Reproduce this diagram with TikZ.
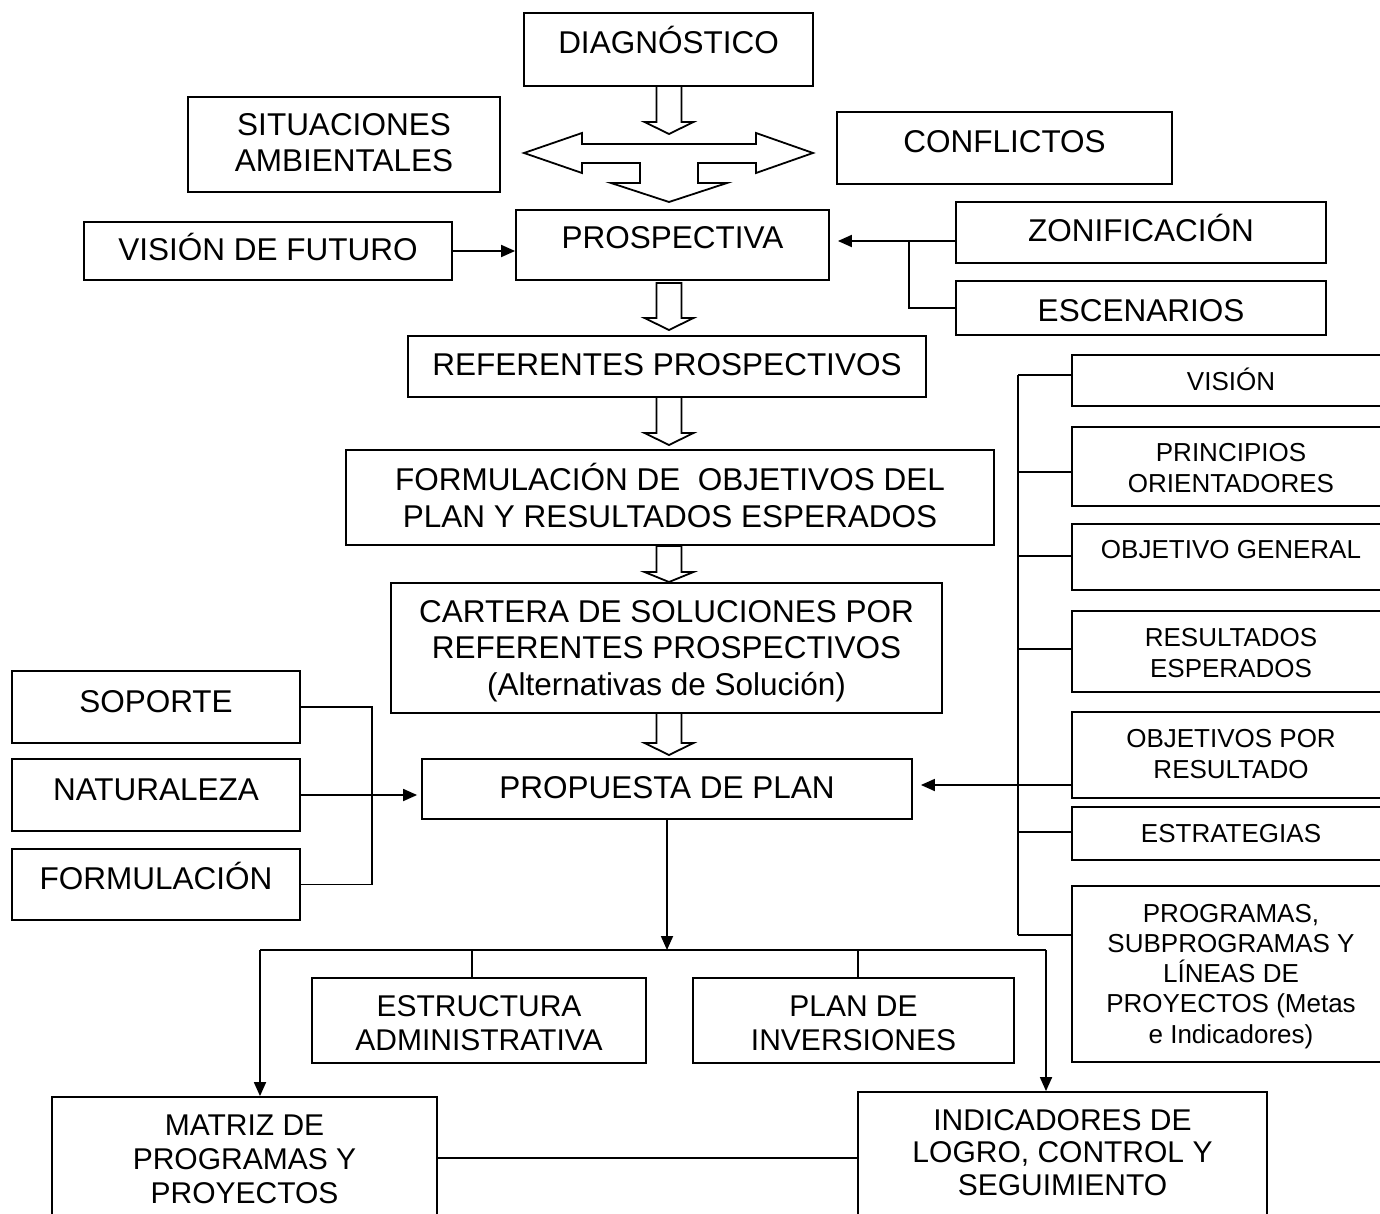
\documentclass[tikz,border=0pt]{standalone}
\usepackage{fontspec}
\setmainfont{Liberation Sans}
\usetikzlibrary{arrows.meta}

\tikzset{
  box/.style={draw, line width=1.8pt, inner sep=0pt, fill=white},
  % labels are placed by the baseline of their last line
  lbl/.style={inner sep=0pt, anchor=base, align=center, font=\fontsize{31.5}{36.5}\selectfont},
  lblsmall/.style={lbl, font=\fontsize{26}{30.2}\selectfont},
  lblmid/.style={lbl, font=\fontsize{30}{34}\selectfont},
  wire/.style={line width=1.8pt},
  arr/.style={wire, -{Triangle[length=14pt,width=12pt]}},
  hollow/.style={draw, line width=1.8pt, fill=white, line join=miter},
}

% box from corner (x1,y1) to corner (x2,y2)
\newcommand\panel[5]{%
  \node[box, minimum width={(#4)-(#2)}, minimum height={(#5)-(#3)}]
    (#1) at ({((#2)+(#4))/2},{((#3)+(#5))/2}) {};}

% hollow block arrow pointing down: x, top of shaft, base of head, tip
\newcommand\blockdown[4]{%
  \draw[hollow] ({#1-12.5},#2) -- ({#1+12.5},#2) -- ({#1+12.5},#3) -- ({#1+24.5},#3)
    -- (#1,#4) -- ({#1-24.5},#3) -- ({#1-12.5},#3) -- cycle;}

\begin{document}
\begin{tikzpicture}[x=1pt,y=-1pt]
\useasboundingbox (0,0) rectangle (1380,1214);

% ---------- boxes ----------
\panel{diag}{524}{13}{813}{86}
\panel{sit}{188}{97}{500}{192}
\panel{conf}{837}{112}{1172}{184}
\panel{prosp}{516}{210}{829}{280}
\panel{vis}{84}{222}{452}{280}
\panel{zon}{956}{202}{1326}{263}
\panel{esc}{956}{281}{1326}{335}
\panel{ref}{408}{336}{926}{397}
\panel{form}{346}{450}{994}{545}
\panel{cart}{391}{583}{942}{713}
\panel{prop}{422}{759}{912}{819}
\panel{sop}{12}{671}{300}{743}
\panel{nat}{12}{759}{300}{831}
\panel{fml}{12}{849}{300}{920}
\panel{r1}{1072}{355}{1390}{406}
\panel{r2}{1072}{427}{1390}{506}
\panel{r3}{1072}{524}{1390}{590}
\panel{r4}{1072}{611}{1390}{692}
\panel{r5}{1072}{712}{1390}{798}
\panel{r6}{1072}{807}{1390}{860}
\panel{r7}{1072}{886}{1390}{1062}
\panel{est}{312}{978}{646}{1063}
\panel{plan}{693}{978}{1014}{1063}
\panel{mat}{52}{1097}{437}{1232}
\panel{ind}{858}{1092}{1267}{1232}

% ---------- labels ----------
\node[lbl] (diag-t) at (668.5,54) {DIAGNÓSTICO};
\node[lbl] (sit-t) at (344,172) {SITUACIONES\\AMBIENTALES};
\node[lbl] (conf-t) at (1004.5,153) {CONFLICTOS};
\node[lbl] (vis-t) at (268,261) {VISIÓN DE FUTURO};
\node[lbl] (prosp-t) at (672.5,249) {PROSPECTIVA};
\node[lbl] (zon-t) at (1141,242) {ZONIFICACIÓN};
\node[lbl] (esc-t) at (1141,321) {ESCENARIOS};
\node[lbl] (ref-t) at (667,375) {REFERENTES PROSPECTIVOS};
\node[lbl] (form-t) at (670,527) {FORMULACIÓN DE~ OBJETIVOS DEL\\PLAN Y RESULTADOS ESPERADOS};
\node[lbl] (cart-t) at (666.5,695) {CARTERA DE SOLUCIONES POR\\REFERENTES PROSPECTIVOS\\(Alternativas de Solución)};
\node[lbl] (prop-t) at (667,798) {PROPUESTA DE PLAN};
\node[lbl] (sop-t) at (156,712) {SOPORTE};
\node[lbl] (nat-t) at (156,800) {NATURALEZA};
\node[lbl] (fml-t) at (156,889) {FORMULACIÓN};

\node[lblsmall] (r1-t) at (1231,390) {VISIÓN};
\node[lblsmall] (r2-t) at (1231,492) {PRINCIPIOS\\ORIENTADORES};
\node[lblsmall] (r3-t) at (1231,558) {OBJETIVO GENERAL};
\node[lblsmall] (r4-t) at (1231,677) {RESULTADOS\\ESPERADOS};
\node[lblsmall] (r5-t) at (1231,778) {OBJETIVOS POR\\RESULTADO};
\node[lblsmall] (r6-t) at (1231,842) {ESTRATEGIAS};
\node[lblsmall] (r7-t) at (1231,1043) {PROGRAMAS,\\SUBPROGRAMAS Y\\LÍNEAS DE\\PROYECTOS (Metas\\e Indicadores)};

\node[lblmid] (est-t) at (479,1050) {ESTRUCTURA\\ADMINISTRATIVA};
\node[lblmid] (plan-t) at (853.5,1050) {PLAN DE\\INVERSIONES};
\node[lblmid] (mat-t) at (244.5,1203) {MATRIZ DE\\PROGRAMAS Y\\PROYECTOS};
\node[lblmid, font=\fontsize{30}{32.5}\selectfont] (ind-t) at (1062.5,1195) {INDICADORES DE\\LOGRO, CONTROL Y\\SEGUIMIENTO};

% ---------- hollow block arrows ----------
\blockdown{669}{86}{122}{134}
\draw[hollow] (524,153) -- (582,133) -- (582,144) -- (756,144) -- (756,133)
  -- (813,153) -- (756,173) -- (756,163) -- (698,163) -- (698,183) -- (727,183)
  -- (669,202) -- (611,183) -- (640,183) -- (640,163) -- (582,163) -- (582,173) -- cycle;
\blockdown{669}{283}{318}{330}
\blockdown{669}{397}{433}{445}
\blockdown{669}{546}{572}{582}
\blockdown{669}{713}{743}{755}

% ---------- connectors ----------
\draw[arr] (vis.east) -- (prosp.west |- vis.east);

\coordinate (zj) at (909,241);
\draw[arr] (zon.west |- zj) -- ([xshift=8pt]prosp.east |- zj);
\draw[wire] (zj) |- (esc.west);

\coordinate (lj) at (372,0);
\draw[wire] (sop.east) -| (lj |- fml.east) -- (fml.east);
\draw[arr] (nat.east) -- ([xshift=-4pt]prop.west |- nat.east);

% trunk of the right column
\coordinate (t1) at (1018,375);
\coordinate (t2) at (1018,472);
\coordinate (t3) at (1018,556);
\coordinate (t4) at (1018,649);
\coordinate (t5) at (1018,785);
\coordinate (t6) at (1018,832);
\coordinate (t7) at (1018,935);
\draw[wire] (t1) -- (t7);
\foreach \t/\b in {t1/r1,t2/r2,t3/r3,t4/r4,t5/r5,t6/r6,t7/r7}
  \draw[wire] (\t) -- (\t -| \b.west);
\draw[arr] (t5) -- ([xshift=8pt]prop.east |- t5);

% lower distribution line
\coordinate (bj) at (667,950);
\coordinate (bl) at (260,950);
\coordinate (br) at (1046,950);
\coordinate (be) at (472,950);
\coordinate (bp) at (858,950);
\draw[arr] (prop.south) -- (bj);
\draw[wire] (bl) -- (br);
\draw[wire] (be) -- (be |- est.north);
\draw[wire] (bp) -- (bp |- plan.north);
\draw[arr] (bl) -- (bl |- mat.north);
\draw[arr] (br) -- (br |- ind.north);

\coordinate (ml) at (0,1158);
\draw[wire] (mat.east |- ml) -- (ind.west |- ml);
\end{tikzpicture}
\end{document}
